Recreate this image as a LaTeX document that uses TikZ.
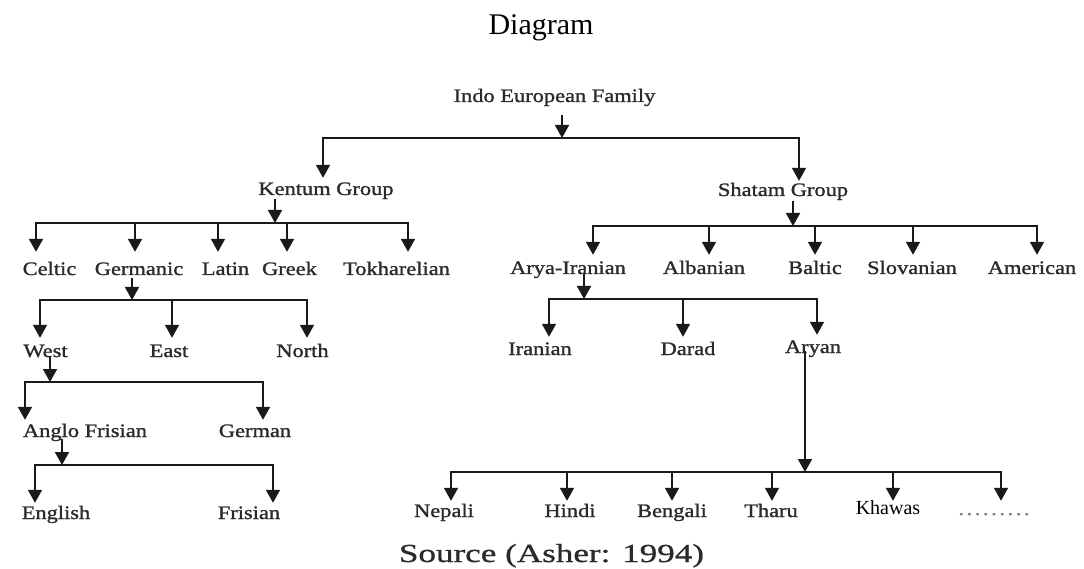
\documentclass[tikz,border=0pt]{standalone}
\usepackage{fontspec}
\setmainfont{Liberation Serif}
\newfontfamily\scanfont[FakeStretch=1.18,FakeBold=1.2]{Liberation Serif}
\newfontfamily\srcfont[FakeStretch=1.35,FakeBold=0.8]{Liberation Serif}
\usetikzlibrary{arrows.meta}
\definecolor{ink}{HTML}{1A1A1A}
\definecolor{inktext}{HTML}{2A2A2A}
\tikzset{
  lbl/.style={font=\scanfont\fontsize{19}{22}\selectfont, text=inktext, inner sep=0pt, anchor=base, text depth=0pt, text height=#1},
  lbl/.default=16pt,
  arr/.style={draw=ink, line width=1.8pt, -{Triangle[width=14pt,length=13pt]}},
}
\begin{document}
\begin{tikzpicture}[x=1pt,y=-1pt]
\useasboundingbox[fill=white] (0,0) rectangle (1084,569);

% title
\node[font=\fontsize{30}{34}\selectfont, inner sep=0pt, anchor=base] (title) at (541,35) {Diagram};

% root
\node[lbl] (ief) at (554.5,102) {Indo European Family};
\coordinate (iej) at (562,138);
\draw[arr] ([xshift=7.5pt,yshift=-13pt]ief.base) -- (iej);

% level 1
\node[lbl=17pt] (kentum) at (326,195) {Kentum Group};
\node[lbl=15pt] (shatam) at (783,196) {Shatam Group};
\draw[arr] (iej) -| ([xshift=-3pt]kentum.north);
\draw[arr] (iej) -| ([xshift=16pt]shatam.north);

% Kentum children
\coordinate (kj) at (275,223);
\draw[arr] ([xshift=-51pt,yshift=-4pt]kentum.base) -- (kj);
\node[lbl=23pt] (celtic) at (49.5,275) {Celtic};
\node[lbl=23pt] (germanic) at (139,275) {Germanic};
\node[lbl=23pt] (latin) at (225.5,275) {Latin};
\node[lbl=23pt] (greek) at (289.5,275) {Greek};
\node[lbl=23pt] (tokh) at (396.5,275) {Tokharelian};
\draw[arr] (kj) -| ([xshift=-13.5pt]celtic.north);
\draw[arr] (kj) -| ([xshift=-4pt]germanic.north);
\draw[arr] (kj) -| ([xshift=-7.5pt]latin.north);
\draw[arr] (kj) -| ([xshift=-2.5pt]greek.north);
\draw[arr] (kj) -| ([xshift=11.5pt]tokh.north);

% Shatam children
\coordinate (sj) at (793,226);
\draw[arr] ([xshift=10pt,yshift=-5pt]shatam.base) -- (sj);
\node[lbl=19pt] (aryair) at (568,274) {Arya-Iranian};
\node[lbl=19pt] (albanian) at (704,274) {Albanian};
\node[lbl=19pt] (baltic) at (815,274) {Baltic};
\node[lbl=19pt] (slovanian) at (912,274) {Slovanian};
\node[lbl=19pt] (american) at (1032,274) {American};
\draw[arr] (sj) -| ([xshift=25pt]aryair.north);
\draw[arr] (sj) -| ([xshift=5pt]albanian.north);
\draw[arr] (sj) -| (baltic.north);
\draw[arr] (sj) -| ([xshift=1pt]slovanian.north);
\draw[arr] (sj) -| ([xshift=5pt]american.north);

% Germanic children
\coordinate (gj) at (132,300);
\draw[arr] ([xshift=-7pt,yshift=-3pt]germanic.base) -- (gj);
\node[lbl=19pt] (west) at (45.5,357) {West};
\node[lbl=19pt] (east) at (169,357) {East};
\node[lbl=19pt] (north) at (302.5,357) {North};
\draw[arr] (gj) -| ([xshift=-5.5pt]west.north);
\draw[arr] (gj) -| ([xshift=3pt]east.north);
\draw[arr] (gj) -| ([xshift=4.5pt]north.north);

% West children
\coordinate (wj) at (50,382);
\draw[arr] ([xshift=4.5pt,yshift=1pt]west.base) -- (wj);
\node[lbl=17pt] (anglo) at (85,437) {Anglo Frisian};
\node[lbl=17pt] (german) at (255,437) {German};
\draw[arr] (wj) -| ([xshift=-60pt]anglo.north);
\draw[arr] (wj) -| ([xshift=8pt]german.north);

% Anglo Frisian children
\coordinate (aj) at (62,465);
\draw[arr] ([xshift=-23pt,yshift=-2pt]anglo.base) -- (aj);
\node[lbl=16pt] (english) at (56,519) {English};
\node[lbl=16pt] (frisian) at (249,519) {Frisian};
\draw[arr] (aj) -| ([xshift=-21pt]english.north);
\draw[arr] (aj) -| ([xshift=24pt]frisian.north);

% Arya-Iranian children
\coordinate (ij) at (584,299);
\draw[arr] ([xshift=16pt]aryair.base) -- (ij);
\node[lbl=18pt] (iranian) at (540,355) {Iranian};
\node[lbl=18pt] (darad) at (688,355) {Darad};
\node[lbl=18pt] (aryan) at (813,353) {Aryan};
\draw[arr] (ij) -| ([xshift=9pt]iranian.north);
\draw[arr] (ij) -| ([xshift=-5pt]darad.north);
\draw[arr] (ij) -| ([xshift=4pt]aryan.north);

% Aryan children
\coordinate (yj) at (805,472);
\draw[arr] ([xshift=-8pt,yshift=2pt]aryan.base) -- (yj);
\node[lbl=16pt] (nepali) at (444,517) {Nepali};
\node[lbl=16pt] (hindi) at (570,517) {Hindi};
\node[lbl=16pt] (bengali) at (672,517) {Bengali};
\node[lbl=16pt] (tharu) at (771,517) {Tharu};
\node[font=\fontsize{20}{24}\selectfont, text=black, inner sep=0pt, anchor=base, text depth=0pt, text height=13pt] (khawas) at (888,514) {Khawas};
\node[lbl=14pt, text=black!50] (dots) at (994,515) {.\kern2.6pt.\kern2.6pt.\kern2.6pt.\kern2.6pt.\kern2.6pt.\kern2.6pt.\kern2.6pt.\kern2.6pt.};
\draw[arr] (yj) -| ([xshift=7pt]nepali.north);
\draw[arr] (yj) -| ([xshift=-3pt]hindi.north);
\draw[arr] (yj) -| (bengali.north);
\draw[arr] (yj) -| ([xshift=1pt]tharu.north);
\draw[arr] (yj) -| ([xshift=5pt]khawas.north);
\draw[arr] (yj) -| ([xshift=7pt]dots.north);

% source
\node[font=\srcfont\fontsize{26}{30}\selectfont, text=inktext, inner sep=0pt, anchor=base] (source) at (551.5,562) {Source (Asher: 1994)};
\end{tikzpicture}
\end{document}
